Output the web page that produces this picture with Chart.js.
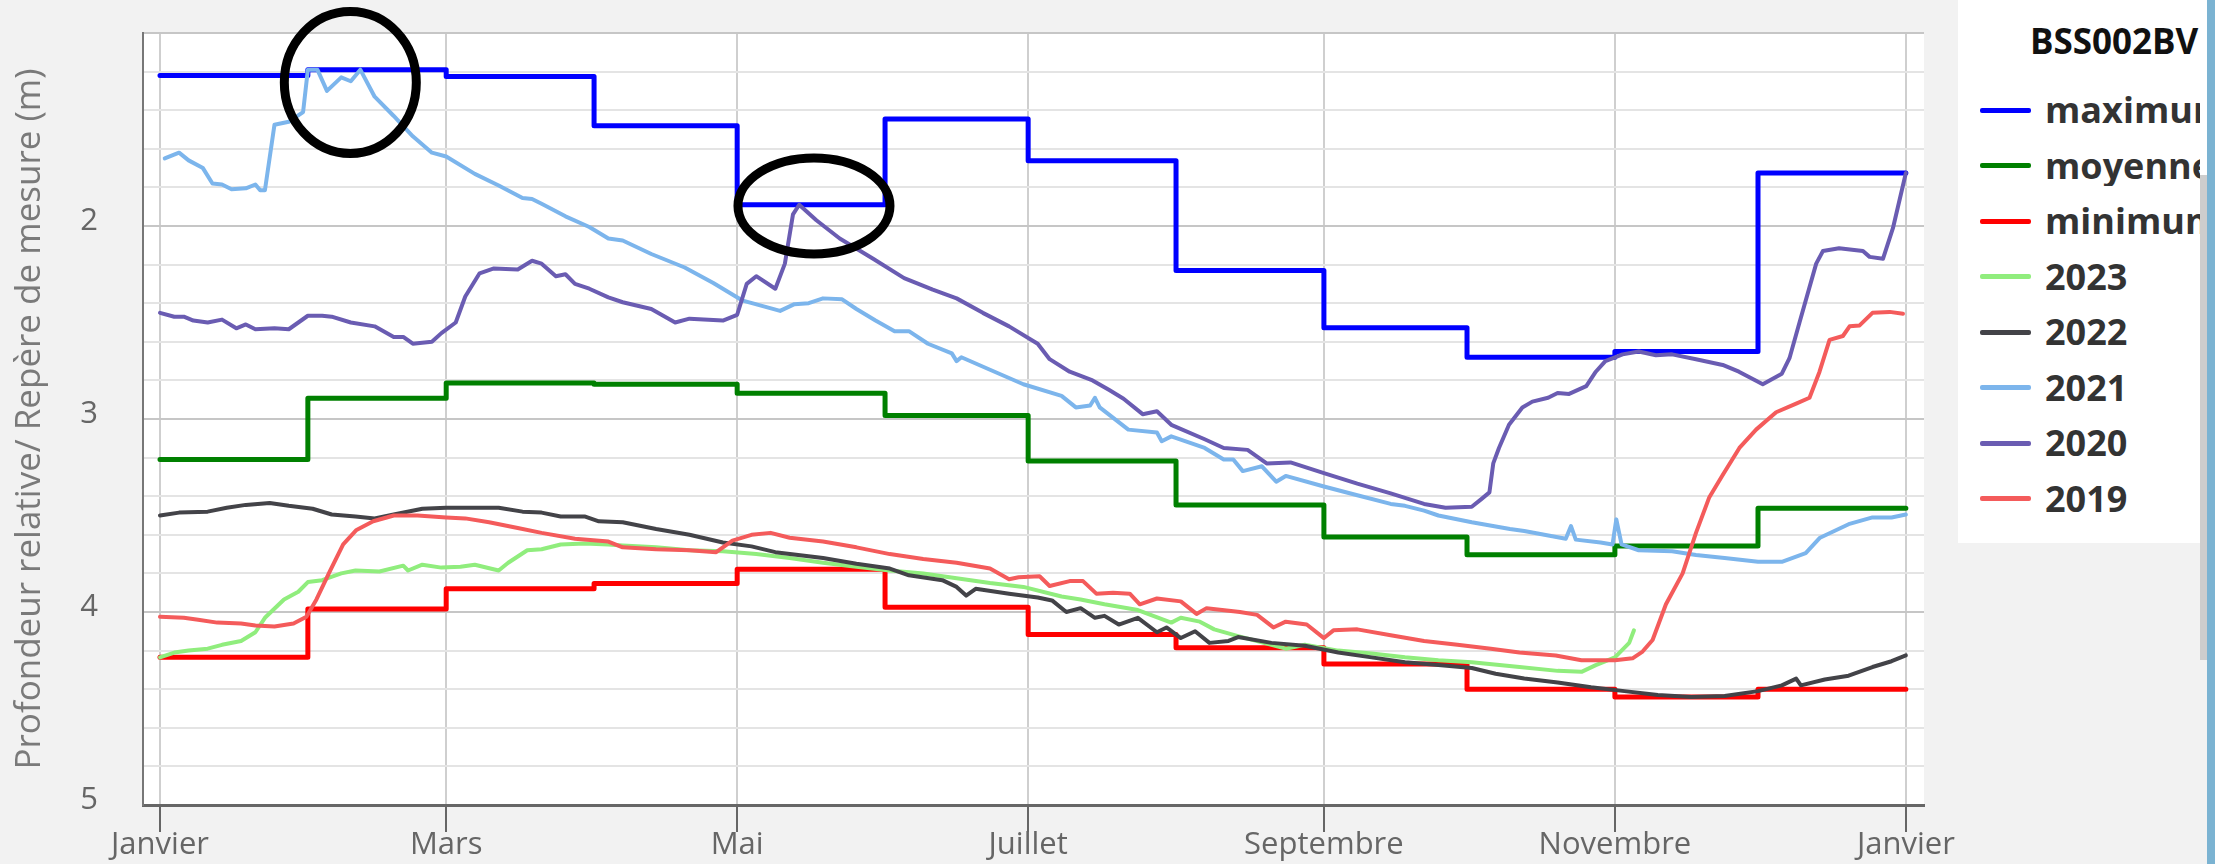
<!DOCTYPE html>
<html lang="fr">
<head>
<meta charset="utf-8">
<title>BSS002BV</title>
<script src="https://cdn.jsdelivr.net/npm/chart.js@4/dist/chart.umd.min.js"></script>
<style>
  html, body { margin: 0; padding: 0; background: #f2f2f2; overflow: hidden; }
  body { width: 2215px; height: 864px; position: relative; font-family: "Open Sans", sans-serif; }
  #graphique { position: absolute; left: 0; top: 0; }
  #legende { position: absolute; left: 1958px; top: 0; width: 249px; height: 543px; background: #fff; overflow: hidden; }
  #legende .titre { position: absolute; left: 72px; top: 23px; font-weight: bold; font-size: 35px; line-height: 35px; color: #111; white-space: nowrap; }
  #legende .item { position: absolute; left: 0; height: 40px; width: 242px; display: flex; align-items: center; white-space: nowrap; overflow: hidden; }
  #legende .trait { position: absolute; left: 22px; width: 51px; height: 5px; border-radius: 2px; }
  #legende .nom { position: absolute; left: 87px; font-weight: bold; font-size: 36px; line-height: 1; color: #333; }
  #ascenseur { position: absolute; left: 2200px; top: 175px; width: 7px; height: 485px; background: #cdcdcd; }
  #bordure { position: absolute; left: 2207px; top: 0; width: 8px; height: 864px; background: #7bb3d2; }
</style>
</head>
<body>
<canvas id="graphique" width="1958" height="864"></canvas>
<div id="legende"><div class="titre">BSS002BV</div></div>
<div id="ascenseur"></div>
<div id="bordure"></div>
<script>
// Axe des x : jours d'une année bissextile (0 = 1er janvier)
var debutsMois = [0, 31, 60, 91, 121, 152, 182, 213, 244, 274, 305, 335, 366];
var ticksMois = [0, 60, 121, 182, 244, 305, 366];
var libellesMois = ["Janvier", "Mars", "Mai", "Juillet", "Septembre", "Novembre", "Janvier"];
var ticksProfondeur = [1, 1.2, 1.4, 1.6, 1.8, 2, 2.2, 2.4, 2.6, 2.8, 3, 3.2, 3.4, 3.6, 3.8, 4, 4.2, 4.4, 4.6, 4.8, 5];

// Statistiques mensuelles (m)
var maximum = [1.22, 1.19, 1.225, 1.48, 1.89, 1.445, 1.662, 2.23, 2.527, 2.68, 2.65, 1.725];
var moyenne = [3.21, 2.893, 2.813, 2.82, 2.866, 2.982, 3.217, 3.446, 3.612, 3.704, 3.658, 3.462];
var minimum = [4.234, 3.985, 3.88, 3.852, 3.778, 3.975, 4.116, 4.185, 4.27, 4.40, 4.44, 4.40];

// Chroniques annuelles
var jours2023 = [0, 3, 6, 10, 13, 17, 20, 22, 26, 29, 31, 34, 38, 41, 46, 51, 52, 55, 59, 63, 66, 71, 73, 77, 80, 84, 89, 94, 97, 104, 111, 118, 125, 132, 139, 146, 153, 160, 167, 174, 181, 189, 193, 198, 205, 212, 214, 218, 221, 226, 233, 236, 240, 247, 254, 261, 268, 275, 285, 293, 298, 301, 305, 308, 309];
var prof2023 = [4.235, 4.21, 4.20, 4.19, 4.17, 4.15, 4.105, 4.03, 3.935, 3.895, 3.845, 3.835, 3.80, 3.785, 3.79, 3.76, 3.785, 3.755, 3.77, 3.765, 3.755, 3.785, 3.745, 3.68, 3.675, 3.65, 3.645, 3.65, 3.655, 3.665, 3.68, 3.685, 3.70, 3.72, 3.745, 3.765, 3.785, 3.80, 3.825, 3.85, 3.87, 3.92, 3.935, 3.96, 3.99, 4.055, 4.03, 4.05, 4.09, 4.125, 4.17, 4.19, 4.17, 4.20, 4.215, 4.235, 4.25, 4.26, 4.285, 4.305, 4.31, 4.275, 4.235, 4.16, 4.095];

var jours2022 = [0, 4, 10, 14, 18, 23, 27, 32, 36, 41, 45, 49, 55, 60, 66, 71, 76, 80, 84, 89, 92, 97, 104, 111, 118, 124, 129, 139, 146, 153, 157, 164, 167, 169, 171, 178, 184, 187, 190, 193, 196, 198, 201, 205, 209, 211, 214, 217, 220, 224, 226, 233, 240, 247, 254, 261, 268, 275, 280, 286, 293, 300, 307, 314, 321, 328, 335, 340, 343, 344, 349, 354, 359, 363, 366];
var prof2022 = [3.50, 3.485, 3.48, 3.46, 3.445, 3.435, 3.45, 3.465, 3.495, 3.505, 3.515, 3.495, 3.465, 3.46, 3.46, 3.46, 3.48, 3.485, 3.505, 3.505, 3.53, 3.535, 3.57, 3.60, 3.64, 3.66, 3.69, 3.72, 3.75, 3.775, 3.81, 3.835, 3.87, 3.915, 3.88, 3.905, 3.925, 3.94, 4.0, 3.98, 4.03, 4.02, 4.065, 4.03, 4.105, 4.08, 4.135, 4.10, 4.16, 4.15, 4.13, 4.16, 4.175, 4.21, 4.235, 4.26, 4.275, 4.29, 4.32, 4.345, 4.365, 4.39, 4.41, 4.43, 4.44, 4.435, 4.41, 4.38, 4.345, 4.38, 4.35, 4.33, 4.285, 4.255, 4.225];

var jours2021 = [1, 4, 6, 9, 11, 13, 15, 18, 20, 21, 22, 24, 27, 30, 31, 33, 35, 38, 40, 42, 45, 49, 53, 57, 60, 66, 71, 76, 78, 80, 85, 90, 94, 97, 103, 110, 116, 122, 130, 133, 136, 139, 143, 146, 150, 154, 157, 161, 166, 167, 168, 174, 181, 189, 192, 195, 196, 197, 203, 209, 210, 212, 219, 223, 225, 227, 231, 234, 236, 244, 251, 258, 261, 265, 268, 275, 283, 286, 294.7, 295.8, 296.8, 302, 304.5, 305.3, 306.4, 310, 317, 322, 328, 335, 340, 345, 348, 354, 359, 363, 366];
var prof2021 = [1.65, 1.62, 1.66, 1.70, 1.78, 1.785, 1.81, 1.805, 1.785, 1.815, 1.815, 1.475, 1.46, 1.41, 1.19, 1.19, 1.30, 1.23, 1.25, 1.19, 1.33, 1.43, 1.535, 1.62, 1.64, 1.73, 1.79, 1.855, 1.86, 1.885, 1.95, 2.005, 2.065, 2.075, 2.145, 2.215, 2.295, 2.385, 2.44, 2.405, 2.40, 2.375, 2.38, 2.43, 2.49, 2.545, 2.545, 2.61, 2.66, 2.70, 2.68, 2.745, 2.82, 2.88, 2.94, 2.93, 2.89, 2.94, 3.055, 3.07, 3.115, 3.09, 3.15, 3.21, 3.21, 3.27, 3.245, 3.325, 3.295, 3.35, 3.395, 3.44, 3.45, 3.475, 3.50, 3.535, 3.57, 3.58, 3.62, 3.555, 3.625, 3.64, 3.65, 3.52, 3.65, 3.68, 3.685, 3.705, 3.72, 3.74, 3.74, 3.695, 3.615, 3.545, 3.51, 3.51, 3.495];

var jours2020 = [0, 3, 5, 7, 10, 13, 16, 18, 20, 24, 27, 31, 34, 36, 40, 45, 49, 51, 53, 57, 59, 62, 64, 67, 70, 75, 78, 80, 83, 85, 87, 90, 94, 97, 103, 108, 111, 118, 121, 123, 125, 129, 131, 132.7, 134, 137.6, 142.5, 149.5, 156, 162, 167, 172.5, 178, 184, 186.5, 190.7, 195.5, 199, 202, 206, 209, 212, 219, 223, 228, 232, 237, 244, 251, 258, 265, 269.5, 275, 277, 278.7, 279.5, 280.7, 282.8, 285.6, 287.7, 291, 293, 295.4, 299, 301, 303, 306.6, 310, 313.6, 317, 322, 327.6, 331, 336, 340, 341.6, 343.7, 347.2, 348.6, 352, 357, 358.4, 361.2, 363.3, 366];
var prof2020 = [2.45, 2.47, 2.47, 2.49, 2.50, 2.485, 2.53, 2.51, 2.535, 2.53, 2.535, 2.465, 2.465, 2.47, 2.50, 2.52, 2.575, 2.575, 2.61, 2.60, 2.555, 2.50, 2.365, 2.245, 2.22, 2.225, 2.18, 2.195, 2.26, 2.25, 2.30, 2.325, 2.37, 2.395, 2.43, 2.50, 2.48, 2.49, 2.46, 2.30, 2.26, 2.325, 2.195, 1.94, 1.89, 1.97, 2.065, 2.17, 2.27, 2.33, 2.375, 2.45, 2.52, 2.61, 2.69, 2.755, 2.80, 2.85, 2.895, 2.975, 2.96, 3.03, 3.105, 3.15, 3.16, 3.23, 3.225, 3.28, 3.335, 3.385, 3.44, 3.46, 3.455, 3.415, 3.38, 3.23, 3.15, 3.03, 2.94, 2.91, 2.89, 2.865, 2.87, 2.83, 2.755, 2.70, 2.665, 2.65, 2.67, 2.665, 2.69, 2.72, 2.755, 2.82, 2.765, 2.685, 2.50, 2.195, 2.13, 2.115, 2.13, 2.16, 2.17, 2.01, 1.725];

var jours2019 = [0, 5, 8, 12, 17, 20, 24, 28, 30.7, 32.8, 35.6, 38.4, 41.2, 44.7, 49, 54, 60, 64, 69, 75, 80, 87, 94, 97, 104, 111, 116.6, 120, 124, 128, 132, 139, 146, 153, 160, 167, 174, 178, 180, 184.4, 186.5, 190.7, 193.5, 196.3, 199.8, 203.3, 205.4, 209, 214, 217.3, 219.4, 226.4, 230, 233.4, 236, 240.4, 244, 246, 251, 258, 265, 272, 279, 285, 292.6, 298, 305, 308.7, 310.8, 312.9, 315.7, 319.2, 322, 324.8, 327.6, 331.1, 334.6, 338.8, 343, 345.8, 347.9, 350, 352.8, 354.2, 356.3, 359, 362.6, 365.4];
var prof2019 = [4.025, 4.03, 4.04, 4.055, 4.06, 4.07, 4.075, 4.06, 4.025, 3.935, 3.79, 3.65, 3.575, 3.53, 3.50, 3.50, 3.51, 3.515, 3.535, 3.565, 3.59, 3.62, 3.635, 3.665, 3.675, 3.68, 3.69, 3.63, 3.60, 3.59, 3.615, 3.635, 3.665, 3.70, 3.725, 3.745, 3.775, 3.83, 3.82, 3.815, 3.865, 3.84, 3.84, 3.905, 3.90, 3.905, 3.96, 3.93, 3.945, 4.01, 3.98, 4.0, 4.015, 4.08, 4.05, 4.065, 4.135, 4.095, 4.09, 4.12, 4.15, 4.17, 4.19, 4.21, 4.225, 4.25, 4.25, 4.24, 4.205, 4.145, 3.96, 3.80, 3.59, 3.405, 3.29, 3.15, 3.055, 2.965, 2.92, 2.89, 2.755, 2.59, 2.57, 2.52, 2.515, 2.45, 2.445, 2.455];

// Les deux ellipses tracées à la main sur l'original (centre en jour / profondeur)
var ellipsesJour = [39.9, 137.1];
var ellipsesProf = [1.256, 1.896];

// Construit les points {x, y} d'une série
function points(jours, valeurs) {
    return jours.map(function(j, i) { return { x: j, y: valeurs[i] }; });
}

// Série en escalier : une valeur par mois, on prolonge la dernière jusqu'au 31 décembre
function escalier(valeurs) {
    return points(debutsMois, valeurs.concat([valeurs[valeurs.length - 1]]));
}

var series = [
    { nom: "maximum", couleur: "#0000ff", data: escalier(maximum), pas: true },
    { nom: "moyenne", couleur: "#008000", data: escalier(moyenne), pas: true },
    { nom: "minimum", couleur: "#ff0000", data: escalier(minimum), pas: true },
    { nom: "2023", couleur: "#90ed7d", data: points(jours2023, prof2023) },
    { nom: "2022", couleur: "#434348", data: points(jours2022, prof2022) },
    { nom: "2021", couleur: "#7cb5ec", data: points(jours2021, prof2021) },
    { nom: "2020", couleur: "#6a5cb2", data: points(jours2020, prof2020) },
    { nom: "2019", couleur: "#f45b5b", data: points(jours2019, prof2019) }
];

// Légende HTML (coupée à droite comme sur l'original)
var legende = document.getElementById("legende");
series.forEach(function(s, i) {
    var item = document.createElement("div");
    item.className = "item";
    item.style.top = (110 + 55.5 * i - 20) + "px";
    item.innerHTML = '<span class="trait" style="background:' + s.couleur + '"></span><span class="nom">' + s.nom + '</span>';
    legende.appendChild(item);
});

// Fond blanc de la zone de tracé
var fondTrace = {
    id: "fondTrace",
    beforeDraw: function(chart) {
        var a = chart.chartArea, ctx = chart.ctx;
        ctx.save();
        ctx.fillStyle = "#ffffff";
        ctx.fillRect(a.left, a.top, a.right - a.left, a.bottom - a.top);
        ctx.restore();
    }
};

// Ellipses noires
var ellipses = {
    id: "ellipses",
    afterDraw: function(chart) {
        var ctx = chart.ctx, x = chart.scales.x, y = chart.scales.y;
        var rayons = [[66, 71], [76, 48]];
        ctx.save();
        ctx.strokeStyle = "#000000";
        ctx.lineWidth = 9;
        for (var i = 0; i < ellipsesJour.length; i++) {
            ctx.beginPath();
            ctx.ellipse(x.getPixelForValue(ellipsesJour[i]), y.getPixelForValue(ellipsesProf[i]),
                rayons[i][0], rayons[i][1], 0, 0, Math.PI * 2);
            ctx.stroke();
        }
        ctx.restore();
    }
};

function dessiner() {
    var police = { family: "'Open Sans', sans-serif", size: 31 };
    var canvas = document.getElementById("graphique");

    new Chart(canvas, {
        type: "line",
        data: {
            datasets: series.map(function(s, i) {
                return {
                    label: s.nom,
                    data: s.data,
                    borderColor: s.couleur,
                    backgroundColor: s.couleur,
                    borderWidth: s.pas ? 5 : 4,
                    stepped: s.pas ? true : false,
                    pointRadius: 0,
                    fill: false,
                    order: -i
                };
            })
        },
        options: {
            responsive: false,
            animation: false,
            devicePixelRatio: 1,
            layout: { padding: { top: 33, right: 34, left: 0, bottom: 0 } },
            plugins: {
                legend: { display: false },
                tooltip: { enabled: false }
            },
            elements: {
                line: { tension: 0, borderJoinStyle: "round", borderCapStyle: "round" }
            },
            scales: {
                x: {
                    type: "linear",
                    min: -3.56,
                    max: 369.8,
                    afterBuildTicks: function(s) { s.ticks = ticksMois.map(function(v) { return { value: v }; }); },
                    afterFit: function(s) { s.height = 59; s.paddingLeft = 0; s.paddingRight = 0; },
                    ticks: {
                        autoSkip: false,
                        maxRotation: 0,
                        padding: -5,
                        color: "#666666",
                        font: police,
                        callback: function(v, i) { return libellesMois[i]; }
                    },
                    grid: { color: "#cfcfcf", lineWidth: 2, tickLength: 27, tickColor: "#666666", tickWidth: 2 },
                    border: { color: "#666666", width: 3 }
                },
                y: {
                    type: "linear",
                    reverse: true,
                    min: 1,
                    max: 5,
                    afterBuildTicks: function(s) { s.ticks = ticksProfondeur.map(function(v) { return { value: v }; }); },
                    afterFit: function(s) { s.width = 143; s.paddingTop = 0; s.paddingBottom = 0; },
                    ticks: {
                        autoSkip: false,
                        padding: 45,
                        labelOffset: -5,
                        color: "#666666",
                        font: police,
                        callback: function(v) { return (Number.isInteger(v) && v > 1) ? String(v) : ""; }
                    },
                    grid: {
                        drawTicks: false,
                        lineWidth: 2,
                        color: function(ctx) {
                            return (ctx.tick && Number.isInteger(ctx.tick.value)) ? "#c6c6c6" : "#e4e4e4";
                        }
                    },
                    border: { color: "#777777", width: 2 },
                    title: {
                        display: true,
                        text: "Profondeur relative/ Repère de mesure (m)",
                        color: "#7a7a7a",
                        font: { family: "'Open Sans', sans-serif", size: 35 },
                        padding: { top: 9, bottom: 0 }
                    }
                }
            }
        },
        plugins: [fondTrace, ellipses]
    });
}

if (document.fonts && document.fonts.load) {
    Promise.all([
        document.fonts.load("31px 'Open Sans'"),
        document.fonts.load("bold 36px 'Open Sans'")
    ]).then(dessiner, dessiner);
} else {
    dessiner();
}
</script>
</body>
</html>
